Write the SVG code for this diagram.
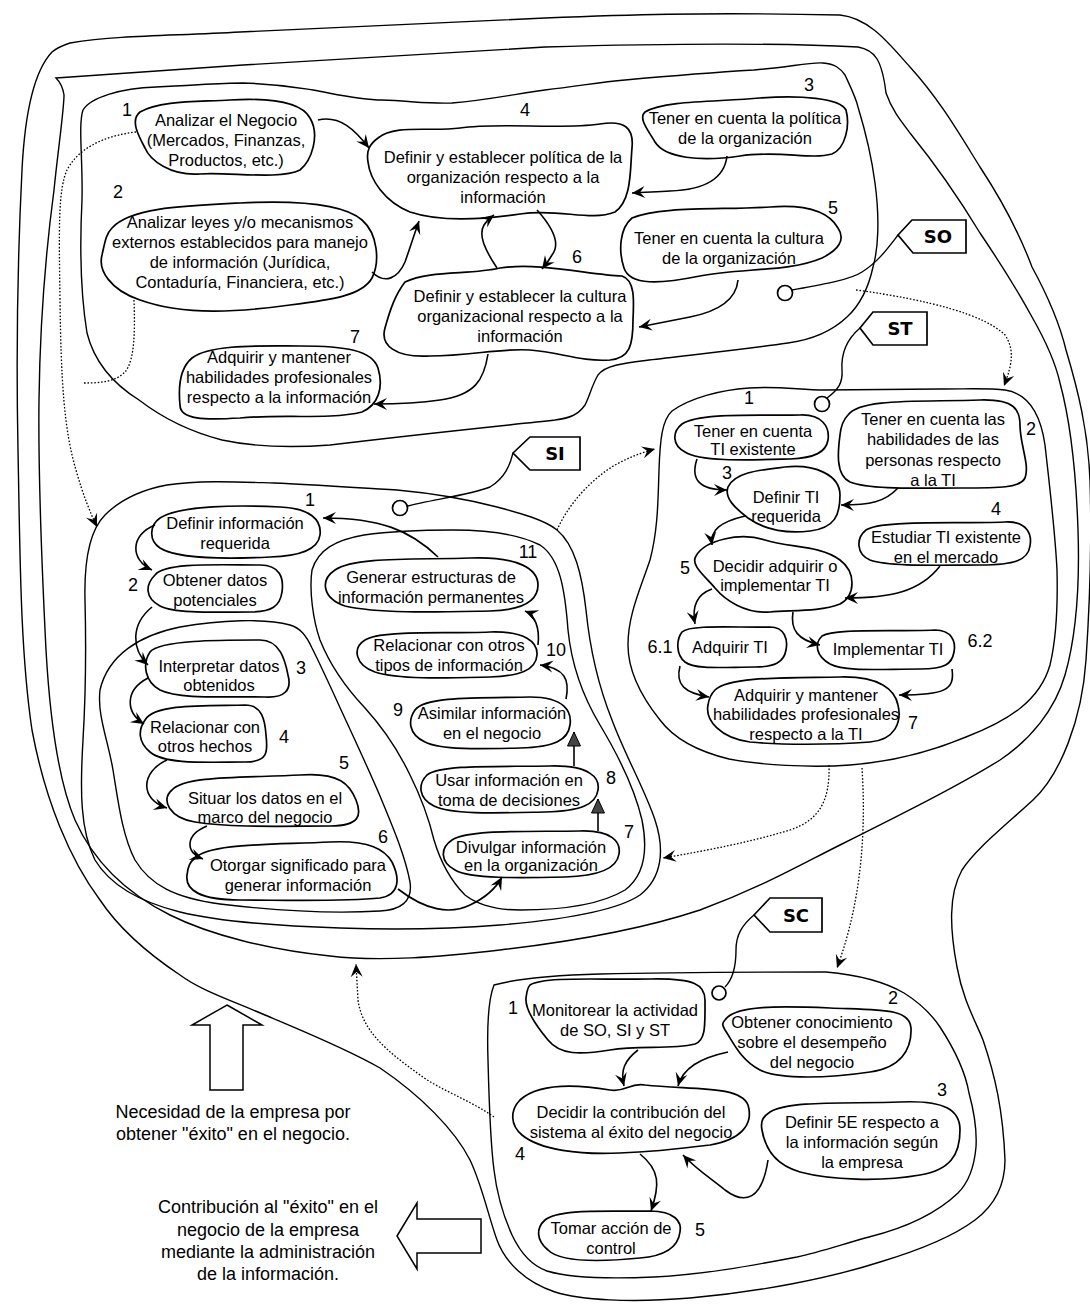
<svg xmlns="http://www.w3.org/2000/svg" width="1090" height="1307" viewBox="0 0 1090 1307">
<defs>
<style>
.c{fill:none;stroke:#000;stroke-width:1.4}
.n{fill:#fff;stroke:#000;stroke-width:1.7}
.t{font-family:"Liberation Sans",Arial,sans-serif;font-size:16.5px;text-anchor:middle;fill:#000}
.num{font-family:"Liberation Sans",Arial,sans-serif;font-size:18px;text-anchor:middle;fill:#000}
.big{font-family:"Liberation Sans",Arial,sans-serif;font-size:18px;text-anchor:middle;fill:#000}
.tag{font-family:"DejaVu Sans","Liberation Sans",sans-serif;font-size:18px;font-weight:bold;text-anchor:middle;fill:#000}
.a{fill:none;stroke:#000;stroke-width:1.6;marker-end:url(#ah)}
.s{fill:none;stroke:#000;stroke-width:1.6;marker-end:url(#tri)}
.d{fill:none;stroke:#000;stroke-width:1.3;stroke-dasharray:1.6 1.8;marker-end:url(#ah)}
.dn{fill:none;stroke:#000;stroke-width:1.3;stroke-dasharray:1.6 1.8}
.tg{fill:#fff;stroke:#000;stroke-width:1.7}
.bl{fill:#fff;stroke:#000;stroke-width:1.5}
</style>
<marker id="ah" viewBox="-14 -7 16 14" refX="0" refY="0" markerWidth="16" markerHeight="14" orient="auto" markerUnits="userSpaceOnUse">
<path d="M0,0 L-13,-6 L-8,0 L-13,6 Z" fill="#000"/>
</marker>
<marker id="tri" viewBox="-15 -8 17 16" refX="0" refY="0" markerWidth="17" markerHeight="16" orient="auto" markerUnits="userSpaceOnUse">
<path d="M0,0 L-14,-6.5 L-14,6.5 Z" fill="#444" stroke="#000" stroke-width="1"/>
</marker>
</defs>
<rect width="1090" height="1307" fill="#fff"/>

<g id="contours">
<path id="loop-outer" class="c" d="M70,43 C120,35 170,36 240,32 C350,26 450,22 545,18 C620,15 700,12 840,15 C870,18 890,45 910,67 C940,100 960,135 980,167 C1005,205 1020,235 1032,267 C1050,300 1060,325 1066,350 C1078,390 1088,430 1090,480 C1092,540 1090,600 1086,660 C1082,720 1060,775 1033,800 C1000,830 975,850 962,870 C948,895 950,930 957,967 C963,1000 975,1020 983,1040 C995,1075 1003,1110 1005,1160 C1005,1185 995,1205 975,1220 C955,1235 920,1250 880,1262 C830,1278 760,1292 690,1298 C630,1303 580,1300 555,1292 C525,1282 505,1262 497,1240 C488,1215 482,1185 470,1160 C455,1130 420,1095 380,1068 C345,1048 300,1030 265,1015 C230,1000 200,990 180,975 C150,955 120,930 100,900 C70,860 45,800 32,730 C20,650 20,550 18,450 C16,350 18,250 22,170 C25,110 35,70 52,52 C58,47 64,45 70,43 Z"/>
<path id="loop-inner" class="c" d="M56,78 C100,75 150,72 243,65 C350,58 450,52 545,47 C650,44 760,42 858,47 C875,50 882,60 886,93 C892,110 900,120 910,133 C940,170 960,200 980,233 C1005,270 1020,295 1032,317 C1048,345 1056,365 1060,383 C1070,420 1076,470 1078,530 C1080,590 1075,640 1065,675 C1055,710 1030,740 1000,760 C960,785 900,815 840,845 C800,865 760,888 700,910 C640,930 560,943 500,950 C440,957 380,962 330,956 C270,950 210,935 170,915 C130,895 95,865 75,820 C58,780 50,720 46,650 C42,570 38,480 39,400 C40,320 46,250 54,190 C58,150 64,110 64,95 C63,88 60,82 56,78 Z"/>
<path id="region-SO" class="c" d="M83,110 C90,98 120,88 156,87 C200,85 220,83 243,83 C280,84 300,88 313,90 C340,95 360,100 382,100 C410,101 430,104 452,103 C490,100 520,93 545,90 C580,86 600,82 625,80 C680,75 720,72 754,70 C790,67 810,62 823,63 C835,64 840,68 845,75 C852,90 856,98 858,107 C865,130 872,160 875,183 C880,220 878,250 873,267 C868,290 860,305 847,317 C830,333 810,340 788,343 C740,350 690,355 649,360 C625,363 605,365 598,375 C592,385 590,395 585,405 C578,415 570,418 555,420 C500,426 420,434 330,445 C290,448 250,446 222,440 C195,433 165,420 139,400 C115,385 95,365 87,333 C80,290 80,240 82,200 C83,160 78,125 83,110 Z"/>
<path id="region-SI" class="c" d="M105,515 C120,500 140,490 167,485 C200,480 240,482 274,483 C320,485 360,488 397,490 C430,493 470,500 497,507 C520,513 545,520 557,530 C575,545 582,575 586,610 C590,650 600,690 612,720 C625,755 645,790 655,820 C665,850 662,878 640,895 C615,912 560,920 500,925 C450,929 400,930 340,928 C280,926 220,922 180,912 C140,902 110,885 95,860 C80,830 80,790 83,740 C86,690 86,640 85,600 C84,560 90,530 105,515 Z"/>
<path id="region-SI-a" class="c" d="M100,690 C108,655 140,635 180,627 C220,620 265,618 290,625 C300,628 306,635 312,648 C322,668 332,690 342,712 C355,740 368,768 380,796 C392,825 405,855 410,882 C413,902 400,910 380,911 C330,914 270,910 220,904 C175,898 150,885 135,860 C122,835 118,800 113,770 C108,740 97,715 100,690 Z"/>
<path id="region-SI-b" class="c" d="M312,570 C318,550 335,540 364,535 C400,530 430,530 453,530 C490,530 520,535 540,545 C560,558 565,590 568,630 C572,670 585,700 600,725 C618,755 635,790 642,820 C648,850 645,875 625,890 C600,905 560,910 520,910 C495,910 478,905 465,895 C450,880 440,860 434,840 C428,815 420,795 410,775 C398,750 385,730 365,708 C348,690 330,665 320,640 C313,620 309,590 312,570 Z"/>
<path id="region-ST" class="c" d="M672,411 C690,398 720,390 749,388 C780,386 800,390 824,390 C860,390 900,389 940,389 C970,389 990,388 1005,390 C1025,393 1040,410 1045,445 C1050,490 1055,530 1057,570 C1058,610 1056,640 1050,665 C1040,700 1010,720 966,737 C930,752 890,762 850,765 C810,768 760,765 729,759 C700,752 675,740 660,720 C640,695 628,670 628,645 C628,615 640,590 650,560 C658,530 658,500 659,470 C660,440 662,420 672,411 Z"/>
<path id="region-SC" class="c" d="M494,985 C520,978 560,975 600,974 C680,972 760,972 826,972 C860,975 885,982 904,993 C920,1003 932,1015 940,1027 C955,1050 965,1070 969,1093 C975,1115 977,1130 976,1147 C974,1170 968,1183 958,1193 C935,1215 905,1228 869,1237 C840,1245 820,1252 797,1257 C750,1266 700,1275 654,1277 C610,1279 570,1278 547,1271 C530,1265 520,1252 512,1235 C503,1215 497,1195 494,1170 C490,1140 489,1100 488,1060 C487,1030 488,1000 494,985 Z"/>
</g>

<!-- SO nodes -->
<g id="so-1">
<path class="n" d="M140,112 C160,100 200,102 230,100 C265,98 300,100 310,118 C320,135 312,160 300,170 C280,180 230,172 200,174 C170,176 150,160 145,148 C138,135 130,120 140,112 Z"/>
<text class="num" x="127" y="116">1</text>
<text class="t" x="226" y="126">Analizar el Negocio</text>
<text class="t" x="226" y="146">(Mercados, Finanzas,</text>
<text class="t" x="226" y="166">Productos, etc.)</text>
</g>
<g id="so-2">
<path class="n" d="M112,228 C130,208 180,206 240,203 C300,200 345,205 362,220 C378,234 380,262 372,278 C362,296 330,300 290,305 C240,312 185,316 140,300 C110,290 98,270 102,255 C105,242 106,234 112,228 Z"/>
<text class="num" x="118" y="198">2</text>
<text class="t" x="240" y="228">Analizar leyes y/o mecanismos</text>
<text class="t" x="240" y="248">externos establecidos para manejo</text>
<text class="t" x="240" y="268">de información (Jurídica,</text>
<text class="t" x="240" y="288">Contaduría, Financiera, etc.)</text>
</g>
<g id="so-3">
<path class="n" d="M645,112 C665,100 720,102 760,98 C800,95 840,98 846,110 C850,125 846,148 832,154 C810,160 780,150 740,156 C700,162 665,158 655,142 C648,130 638,118 645,112 Z"/>
<text class="num" x="809" y="91">3</text>
<text class="t" x="745" y="124">Tener en cuenta la política</text>
<text class="t" x="745" y="144">de la organización</text>
</g>
<g id="so-4">
<path class="n" d="M378,138 C395,124 430,132 460,128 C500,122 560,130 600,124 C625,120 634,128 632,148 C630,170 632,200 615,212 C590,222 560,208 520,214 C480,220 440,222 410,212 C385,202 370,180 368,162 C366,150 370,144 378,138 Z"/>
<text class="num" x="525" y="116">4</text>
<text class="t" x="503" y="163">Definir y establecer política de la</text>
<text class="t" x="503" y="183">organización respecto a la</text>
<text class="t" x="503" y="203">información</text>
</g>
<g id="so-5">
<path class="n" d="M632,218 C660,206 720,210 770,207 C810,204 830,214 838,228 C846,240 838,250 822,258 C790,272 740,268 700,276 C660,284 630,286 624,268 C618,250 620,228 632,218 Z"/>
<text class="num" x="833" y="214">5</text>
<text class="t" x="729" y="244">Tener en cuenta la cultura</text>
<text class="t" x="729" y="264">de la organización</text>
</g>
<g id="so-6">
<path class="n" d="M405,282 C430,270 470,275 500,268 C540,262 590,275 622,276 C635,280 634,300 633,320 C633,345 630,358 610,360 C580,362 560,352 530,350 C500,348 470,356 430,356 C395,358 380,345 385,328 C390,310 395,295 405,282 Z"/>
<text class="num" x="577" y="263">6</text>
<text class="t" x="520" y="302">Definir y establecer la cultura</text>
<text class="t" x="520" y="322">organizacional respecto a la</text>
<text class="t" x="520" y="342">información</text>
</g>
<g id="so-7">
<path class="n" d="M192,358 C210,344 260,346 300,346 C345,346 372,350 378,368 C384,388 378,405 362,412 C330,420 280,414 240,418 C205,420 180,420 180,405 C178,385 180,368 192,358 Z"/>
<text class="num" x="355" y="343">7</text>
<text class="t" x="279" y="363">Adquirir y mantener</text>
<text class="t" x="279" y="383">habilidades profesionales</text>
<text class="t" x="279" y="403">respecto a la información</text>
</g>

<!-- SI nodes -->
<g id="si-1">
<path class="n" d="M160,518 C180,505 240,505 280,507 C310,508 322,520 320,535 C318,550 300,556 270,557 C230,559 180,560 160,548 C148,540 150,525 160,518 Z"/>
<text class="num" x="310" y="506">1</text>
<text class="t" x="235" y="529">Definir información</text>
<text class="t" x="235" y="549">requerida</text>
</g>
<g id="si-2">
<path class="n" d="M155,575 C165,562 220,565 260,565 C280,565 284,578 282,592 C280,606 272,612 250,612 C220,612 175,614 160,606 C145,598 145,585 155,575 Z"/>
<text class="num" x="133" y="591">2</text>
<text class="t" x="215" y="586">Obtener datos</text>
<text class="t" x="215" y="606">potenciales</text>
</g>
<g id="si-3">
<path class="n" d="M150,652 C160,640 220,640 260,640 C280,640 285,660 288,675 C292,690 285,698 265,697 C230,696 180,700 160,690 C145,682 142,664 150,652 Z"/>
<text class="num" x="301" y="674">3</text>
<text class="t" x="219" y="672">Interpretar datos</text>
<text class="t" x="219" y="691">obtenidos</text>
</g>
<g id="si-4">
<path class="n" d="M145,720 C155,703 210,706 245,705 C262,705 265,720 266,735 C268,752 268,762 245,762 C210,762 165,765 150,752 C138,742 138,730 145,720 Z"/>
<text class="num" x="284" y="743">4</text>
<text class="t" x="205" y="733">Relacionar con</text>
<text class="t" x="205" y="752">otros hechos</text>
</g>
<g id="si-5">
<path class="n" d="M172,790 C185,775 250,778 300,775 C340,772 350,785 356,800 C362,815 360,826 330,826 C290,826 230,828 195,822 C170,818 160,800 172,790 Z"/>
<text class="num" x="344" y="769">5</text>
<text class="t" x="265" y="804">Situar los datos en el</text>
<text class="t" x="265" y="823">marco del negocio</text>
</g>
<g id="si-6">
<path class="n" d="M195,858 C210,843 270,845 330,842 C370,840 385,850 392,862 C400,878 400,895 380,898 C340,902 280,900 240,900 C200,900 185,890 187,875 C188,866 190,862 195,858 Z"/>
<text class="num" x="383" y="843">6</text>
<text class="t" x="298" y="871">Otorgar significado para</text>
<text class="t" x="298" y="891">generar información</text>
</g>
<g id="si-7">
<path class="n" d="M452,840 C470,829 530,832 580,831 C612,830 621,842 619,854 C617,868 600,876 565,877 C520,878 470,879 455,870 C440,862 440,848 452,840 Z"/>
<text class="num" x="629" y="838">7</text>
<text class="t" x="531" y="853">Divulgar información</text>
<text class="t" x="531" y="871">en la organización</text>
</g>
<g id="si-8">
<path class="n" d="M427,775 C442,764 500,767 550,766 C590,765 600,778 598,790 C596,805 580,811 545,812 C500,813 452,815 434,806 C418,798 418,784 427,775 Z"/>
<text class="num" x="611" y="784">8</text>
<text class="t" x="509" y="786">Usar información en</text>
<text class="t" x="509" y="806">toma de decisiones</text>
</g>
<g id="si-9">
<path class="n" d="M415,710 C425,696 480,698 530,697 C565,697 572,712 570,725 C568,740 555,747 520,748 C480,749 440,750 425,742 C408,734 408,720 415,710 Z"/>
<text class="num" x="398" y="716">9</text>
<text class="t" x="492" y="719">Asimilar información</text>
<text class="t" x="492" y="739">en el negocio</text>
</g>
<g id="si-10">
<path class="n" d="M365,640 C380,630 440,634 490,632 C525,631 538,642 537,655 C536,670 520,676 490,677 C450,678 400,680 375,672 C355,665 352,648 365,640 Z"/>
<text class="num" x="556" y="656">10</text>
<text class="t" x="449" y="651">Relacionar con otros</text>
<text class="t" x="449" y="671">tipos de información</text>
</g>
<g id="si-11">
<path class="n" d="M335,570 C355,556 420,560 470,558 C520,556 538,570 538,585 C538,600 525,610 490,611 C440,612 380,614 345,606 C322,598 320,580 335,570 Z"/>
<text class="num" x="528" y="558">11</text>
<text class="t" x="431" y="583">Generar estructuras de</text>
<text class="t" x="431" y="603">información permanentes</text>
</g>

<!-- ST nodes -->
<g id="st-1">
<path class="n" d="M682,424 C700,412 760,416 800,415 C822,414 830,427 828,440 C826,452 815,458 790,459 C750,460 700,462 685,452 C672,445 672,432 682,424 Z"/>
<text class="num" x="749" y="404">1</text>
<text class="t" x="753" y="437">Tener en cuenta</text>
<text class="t" x="753" y="455">TI existente</text>
</g>
<g id="st-2">
<path class="n" d="M848,415 C860,398 920,402 980,400 C1015,399 1020,410 1020,425 C1020,445 1030,465 1025,478 C1020,488 1000,488 960,488 C920,488 870,490 850,482 C835,475 838,450 840,435 C841,425 843,420 848,415 Z"/>
<text class="num" x="1031" y="435">2</text>
<text class="t" x="933" y="425">Tener en cuenta las</text>
<text class="t" x="933" y="445">habilidades de las</text>
<text class="t" x="933" y="466">personas respecto</text>
<text class="t" x="933" y="486">a la TI</text>
</g>
<g id="st-3">
<path class="n" d="M728,487 C735,472 760,470 785,467 C815,464 840,475 840,495 C840,515 835,528 810,531 C785,534 765,530 748,518 C735,508 724,498 728,487 Z"/>
<text class="num" x="727" y="479">3</text>
<text class="t" x="786" y="503">Definir TI</text>
<text class="t" x="786" y="522">requerida</text>
</g>
<g id="st-4">
<path class="n" d="M866,530 C880,520 950,524 1005,522 C1028,521 1032,535 1030,546 C1028,560 1015,565 980,565 C940,565 890,567 870,560 C856,554 856,538 866,530 Z"/>
<text class="num" x="996" y="515">4</text>
<text class="t" x="946" y="543">Estudiar TI existente</text>
<text class="t" x="946" y="563">en el mercado</text>
</g>
<g id="st-5">
<path class="n" d="M696,556 C705,540 740,532 765,540 C790,548 820,545 840,560 C856,572 856,595 840,604 C820,612 790,610 770,612 C745,614 725,600 715,588 C705,576 690,565 696,556 Z"/>
<text class="num" x="685" y="574">5</text>
<text class="t" x="775" y="572">Decidir adquirir o</text>
<text class="t" x="775" y="591">implementar TI</text>
</g>
<g id="st-6-1">
<path class="n" d="M682,632 C690,624 740,628 770,627 C785,627 788,640 786,650 C784,662 775,667 755,667 C725,667 695,670 685,662 C676,655 676,640 682,632 Z"/>
<text class="num" x="660" y="653">6.1</text>
<text class="t" x="730" y="653">Adquirir TI</text>
</g>
<g id="st-6-2">
<path class="n" d="M822,636 C835,628 890,632 935,630 C952,630 956,642 954,652 C952,664 945,669 920,669 C880,669 845,672 830,664 C816,656 814,644 822,636 Z"/>
<text class="num" x="980" y="647">6.2</text>
<text class="t" x="888" y="655">Implementar TI</text>
</g>
<g id="st-7">
<path class="n" d="M715,690 C730,676 790,678 840,677 C880,676 895,690 898,705 C902,722 895,740 870,742 C830,745 780,745 750,742 C720,738 705,720 708,705 C709,698 711,694 715,690 Z"/>
<text class="num" x="913" y="729">7</text>
<text class="t" x="806" y="701">Adquirir y mantener</text>
<text class="t" x="806" y="720">habilidades profesionales</text>
<text class="t" x="806" y="740">respecto a la TI</text>
</g>

<!-- SC nodes -->
<g id="sc-1">
<path class="n" d="M530,985 C545,976 600,980 650,979 C695,978 705,985 705,1000 C705,1025 706,1040 695,1044 C670,1050 640,1045 610,1050 C580,1055 560,1055 548,1040 C538,1028 525,1010 526,998 C527,992 527,988 530,985 Z"/>
<text class="num" x="513" y="1014">1</text>
<text class="t" x="615" y="1016">Monitorear la actividad</text>
<text class="t" x="615" y="1036">de SO, SI y ST</text>
</g>
<g id="sc-2">
<path class="n" d="M725,1020 C735,1005 780,1006 830,1008 C880,1010 910,1008 911,1028 C912,1050 900,1068 870,1072 C830,1078 780,1080 760,1070 C740,1060 732,1040 725,1030 C722,1025 722,1023 725,1020 Z"/>
<text class="num" x="893" y="1004">2</text>
<text class="t" x="812" y="1028">Obtener conocimiento</text>
<text class="t" x="812" y="1048">sobre el desempeño</text>
<text class="t" x="812" y="1068">del negocio</text>
</g>
<g id="sc-3">
<path class="n" d="M770,1112 C790,1100 850,1104 900,1102 C945,1100 960,1110 960,1130 C960,1155 950,1170 920,1175 C880,1182 830,1180 800,1172 C775,1165 765,1148 762,1130 C760,1120 764,1116 770,1112 Z"/>
<text class="num" x="942" y="1096">3</text>
<text class="t" x="862" y="1128">Definir 5E respecto a</text>
<text class="t" x="862" y="1148">la información según</text>
<text class="t" x="862" y="1168">la empresa</text>
</g>
<g id="sc-4">
<path class="n" d="M520,1100 C540,1082 580,1085 610,1090 C625,1093 630,1082 645,1085 C690,1090 740,1085 748,1105 C754,1125 740,1140 710,1145 C670,1150 650,1152 620,1153 C580,1155 540,1150 522,1135 C510,1125 510,1110 520,1100 Z"/>
<text class="num" x="520" y="1160">4</text>
<text class="t" x="631" y="1118">Decidir la contribución del</text>
<text class="t" x="631" y="1138">sistema al éxito del negocio</text>
</g>
<g id="sc-5">
<path class="n" d="M545,1220 C560,1208 610,1212 650,1211 C675,1211 682,1222 680,1232 C678,1248 665,1256 640,1258 C600,1262 560,1262 548,1250 C536,1240 536,1228 545,1220 Z"/>
<text class="num" x="700" y="1236">5</text>
<text class="t" x="611" y="1234">Tomar acción de</text>
<text class="t" x="611" y="1254">control</text>
</g>

<g id="connectors">
<!-- SO -->
<path class="a" d="M318,120 C340,115 355,130 369,148"/>
<path class="a" d="M372,272 C385,285 398,278 405,262 C410,248 414,235 419,221"/>
<path class="a" d="M727,156 C724,182 700,190 670,191 C655,192 645,192 632,193"/>
<path class="a" d="M537,210 C555,230 560,245 552,255 C548,262 545,265 542,269"/>
<path class="a" d="M497,268 C485,250 478,235 484,225 C487,220 490,218 494,215"/>
<path class="a" d="M738,280 C736,302 715,312 690,317 C670,321 655,324 639,327"/>
<path class="a" d="M488,354 C484,380 475,395 440,400 C420,403 400,404 374,404"/>
<!-- SI -->
<path class="a" d="M438,557 C410,530 380,518 323,518"/>
<path class="a" d="M155,525 C130,535 130,560 152,570"/>
<path class="a" d="M152,607 C130,625 132,650 148,665"/>
<path class="a" d="M148,678 C125,690 125,712 144,724"/>
<path class="a" d="M167,760 C140,772 140,800 167,808"/>
<path class="a" d="M207,826 C185,835 185,852 203,859"/>
<path class="a" d="M398,889 C425,910 450,915 470,905 C485,898 495,890 502,877"/>
<path class="s" d="M598,831 L598,799"/>
<path class="s" d="M574,766 L574,732"/>
<path class="a" d="M566,699 C570,680 565,668 540,665"/>
<path class="a" d="M538,645 C540,628 535,615 525,611"/>
<!-- ST -->
<path class="a" d="M697,459 C690,480 700,490 727,490"/>
<path class="a" d="M898,488 C885,502 870,505 841,505"/>
<path class="a" d="M745,516 C720,522 710,530 712,545"/>
<path class="a" d="M940,566 C920,592 890,598 845,598"/>
<path class="a" d="M712,589 C695,595 692,608 695,624"/>
<path class="a" d="M793,612 C790,630 798,640 820,645"/>
<path class="a" d="M680,666 C675,685 685,693 709,697"/>
<path class="a" d="M952,669 C955,690 945,695 899,695"/>
<!-- SC -->
<path class="a" d="M638,1050 C625,1060 620,1070 624,1086"/>
<path class="a" d="M728,1052 C700,1058 683,1068 678,1086"/>
<path class="a" d="M768,1160 C762,1200 745,1205 725,1190 C710,1178 695,1168 683,1155"/>
<path class="a" d="M640,1154 C660,1170 660,1185 651,1211"/>
<!-- dotted between systems -->
<path class="d" d="M136,132 C110,135 80,145 67,170 C58,190 59,230 60,300 C61,380 64,430 76,470 C83,495 90,512 97,527"/>
<path class="dn" d="M134,300 C135,330 135,360 125,372 C115,382 100,383 84,383"/>
<path class="d" d="M856,290 C930,300 985,315 1005,335 C1015,350 1012,365 1004,386"/>
<path class="d" d="M557,530 C568,505 590,480 615,465 C628,458 640,453 655,449"/>
<path class="d" d="M829,765 C830,800 820,820 790,830 C750,842 710,850 663,858"/>
<path class="d" d="M862,768 C866,830 862,900 837,968"/>
<path class="d" d="M494,1117 C470,1100 440,1090 420,1075 C385,1050 362,1030 358,1000 L356,964"/>
</g>

<g id="tag-SO">
<path class="c" d="M792,290 C820,285 850,280 862,272 C878,262 888,248 898,235"/>
<circle class="tg" cx="785" cy="293" r="7.5"/>
<path class="tg" d="M898,235 L912,220 L966,220 L966,253 L913,253 Z"/>
<text class="tag" x="938" y="243">SO</text>
</g>
<g id="tag-ST">
<path class="c" d="M827,398 C838,390 843,383 842,370 C841,355 846,340 860,328"/>
<circle class="tg" cx="822" cy="404" r="7.5"/>
<path class="tg" d="M860,328 L873,312 L927,312 L927,345 L873,345 Z"/>
<text class="tag" x="900" y="335">ST</text>
</g>
<g id="tag-SI">
<path class="c" d="M408,506 C430,500 470,495 490,487 C505,478 510,465 513,453"/>
<circle class="tg" cx="400" cy="508" r="7.5"/>
<path class="tg" d="M513,453 L530,437 L580,437 L580,470 L530,470 Z"/>
<text class="tag" x="555" y="460">SI</text>
</g>
<g id="tag-SC">
<path class="c" d="M725,987 C734,978 736,965 736,950 C736,935 742,925 754,915"/>
<circle class="tg" cx="719" cy="993" r="7"/>
<path class="tg" d="M754,915 L770,898 L822,898 L822,932 L770,932 Z"/>
<text class="tag" x="796" y="922">SC</text>
</g>

<g id="need-arrow">
<path class="bl" d="M227,1005 L262,1025 L243,1025 L243,1090 L210,1090 L210,1025 L192,1025 Z"/>
<text class="big" x="233" y="1118">Necesidad de la empresa por</text>
<text class="big" x="233" y="1140">obtener "éxito" en el negocio.</text>
</g>
<g id="contribution-arrow">
<path class="bl" d="M397,1236 L417,1203 L417,1219 L481,1219 L481,1253 L417,1253 L417,1269 Z"/>
<text class="big" x="268" y="1213">Contribución al "éxito" en el</text>
<text class="big" x="268" y="1236">negocio de la empresa</text>
<text class="big" x="268" y="1258">mediante la administración</text>
<text class="big" x="268" y="1280">de la información.</text>
</g>
</svg>
